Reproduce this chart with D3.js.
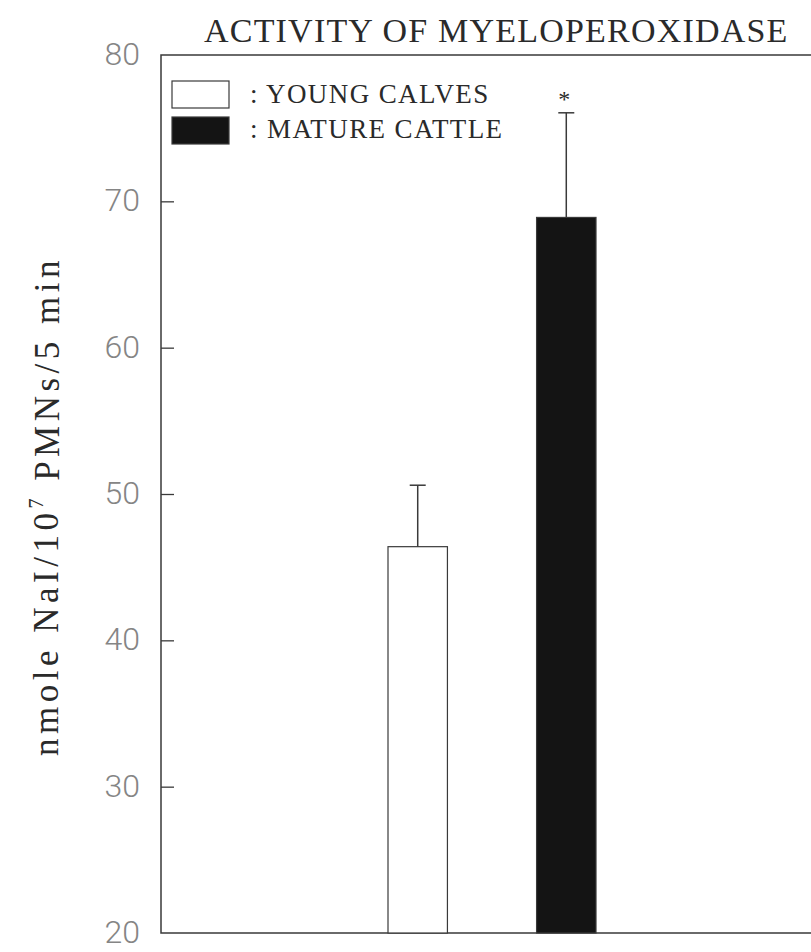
<!DOCTYPE html>
<html>
<head>
<meta charset="utf-8">
<script src="https://cdn.jsdelivr.net/npm/d3@7"></script>
<style>
  html, body { margin: 0; padding: 0; background: #fff; }
  svg { display: block; }
  .serif { font-family: "Liberation Serif", "DejaVu Serif", serif; fill: #2a2a2a; }
  .tick text { font-family: Roboto, Lato, "Liberation Sans", sans-serif; font-weight: 300; fill: #858585; }
</style>
</head>
<body>
<svg id="chart"></svg>
<script>
// data
const groups = ["YOUNG CALVES", "MATURE CATTLE"];
const means = [46.4, 68.9];
const errors = [4.2, 7.15];
const fills = ["#ffffff", "#141414"];
const marks = ["", "*"];
const yTicks = [20, 30, 40, 50, 60, 70, 80];

const width = 811, height = 952;
const margin = { top: 55, left: 161, bottom: 19 };

const svg = d3.select("#chart")
  .attr("width", width)
  .attr("height", height);

const y = d3.scaleLinear()
  .domain([20, 80])
  .range([height - margin.bottom, margin.top]);

const x = d3.scaleBand()
  .domain(groups)
  .range([388, 596])
  .paddingInner(0.6)
  .paddingOuter(0);

// frame (right side runs off the page like the scan)
svg.append("path")
  .attr("d", `M${width + 20},${y(80)} H${margin.left} V${y(20)} H${width + 20}`)
  .attr("fill", "none")
  .attr("stroke", "#3a3a3a")
  .attr("stroke-width", 1.5);

// y axis with inward ticks
const yAxis = svg.append("g")
  .attr("transform", `translate(${margin.left},0)`)
  .call(d3.axisRight(y).tickValues(yTicks).tickSize(13).tickFormat(d3.format("d")));
yAxis.select(".domain").remove();
yAxis.selectAll(".tick line").attr("stroke", "#3a3a3a").attr("stroke-width", 1.3);
yAxis.selectAll(".tick text")
  .attr("x", -21)
  .attr("text-anchor", "end")
  .attr("dy", "0.3em")
  .style("font-size", "32px");
// no tick marks at the frame corners
yAxis.selectAll(".tick").filter(d => d === 20 || d === 80).select("line").remove();

// bars
svg.append("g")
  .selectAll("rect")
  .data(groups)
  .enter().append("rect")
  .attr("x", d => x(d))
  .attr("y", (d, i) => y(means[i]))
  .attr("width", x.bandwidth())
  .attr("height", (d, i) => y(20) - y(means[i]))
  .attr("fill", (d, i) => fills[i])
  .attr("stroke", "#3a3a3a")
  .attr("stroke-width", 1.2);

// error bars (upper only)
const err = svg.append("g")
  .attr("stroke", "#3a3a3a")
  .attr("stroke-width", 1.5);
groups.forEach((g, i) => {
  const cx = x(g) + x.bandwidth() / 2;
  err.append("line")
    .attr("x1", cx).attr("x2", cx)
    .attr("y1", y(means[i])).attr("y2", y(means[i] + errors[i]));
  err.append("line")
    .attr("x1", cx - 8).attr("x2", cx + 8)
    .attr("y1", y(means[i] + errors[i])).attr("y2", y(means[i] + errors[i]));
  if (marks[i]) {
    svg.append("text")
      .attr("class", "serif")
      .attr("x", cx - 2)
      .attr("y", y(means[i] + errors[i]) - 6)
      .attr("text-anchor", "middle")
      .style("font-size", "24px")
      .text(marks[i]);
  }
});

// title
svg.append("text")
  .attr("class", "serif")
  .attr("x", 204)
  .attr("y", 42)
  .style("font-size", "34px")
  .style("letter-spacing", "1.2px")
  .text("ACTIVITY OF MYELOPEROXIDASE");

// y label
const ylab = svg.append("text")
  .attr("class", "serif")
  .attr("transform", `translate(58,${(y(20) + y(80)) / 2 + 12}) rotate(-90)`)
  .attr("text-anchor", "middle")
  .style("font-size", "35px")
  .style("letter-spacing", "4.5px");
ylab.append("tspan").text("nmole NaI/10");
ylab.append("tspan").attr("dy", "-0.75em").style("font-size", "20px").text("7");
ylab.append("tspan").attr("dy", "0.45em").text(" PMNs/5 min");

// legend
const legend = svg.append("g");
groups.forEach((g, i) => {
  legend.append("rect")
    .attr("x", 172)
    .attr("y", 81 + i * 36)
    .attr("width", 57)
    .attr("height", 27)
    .attr("fill", fills[i])
    .attr("stroke", "#3a3a3a")
    .attr("stroke-width", 1.2);
  legend.append("text")
    .attr("class", "serif")
    .attr("x", 250)
    .attr("y", 103 + i * 35)
    .style("font-size", "27px")
    .style("letter-spacing", "1.4px")
    .text(": " + g);
});
</script>
</body>
</html>
